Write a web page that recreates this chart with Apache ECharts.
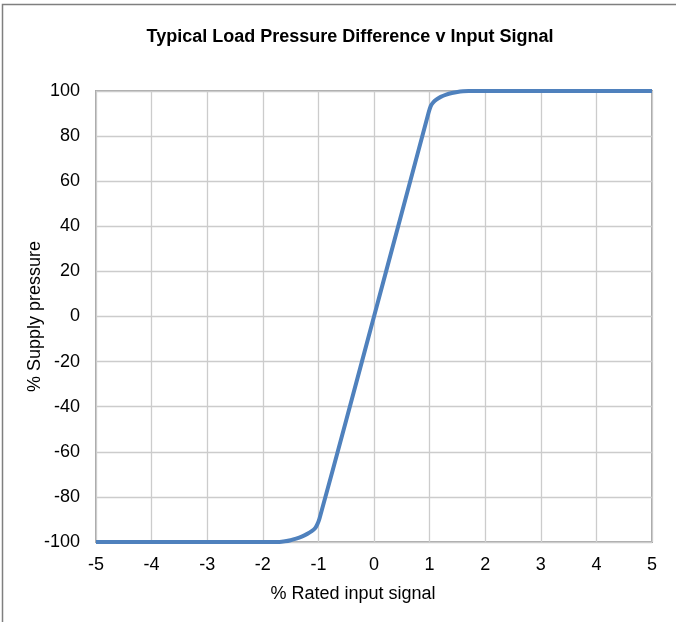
<!DOCTYPE html>
<html>
<head>
<meta charset="utf-8">
<script src="https://cdn.jsdelivr.net/npm/echarts@6/dist/echarts.min.js"></script>
<style>
html,body{margin:0;padding:0;background:#fff;}
#chart{width:676px;height:622px;}
</style>
</head>
<body>
<div id="chart"></div>
<script>
const titleText = 'Typical Load Pressure Difference v Input Signal';
const xAxisName = '% Rated input signal';
const yAxisName = '% Supply pressure';
const inputSignal = [-5, -3, -2, -1.7, -1.6, -1.5, -1.4, -1.3, -1.2, -1.12, -1.06, -1.02, -0.98, -0.5, 0, 0.5, 0.98, 1.02, 1.06, 1.12, 1.2, 1.3, 1.4, 1.5, 1.6, 1.7, 2, 3, 5];
const pressure    = [-100, -100, -100, -100, -99.7, -99.2, -98.5, -97.6, -96.4, -95.2, -93.9, -92.2, -89.6, -46, 0, 46, 90.2, 93.3, 94.8, 96.2, 97.4, 98.4, 99.1, 99.6, 99.9, 100, 100, 100, 100];

const chart = echarts.init(document.getElementById('chart'), null, {renderer: 'canvas'});
const font = 'Liberation Sans, Arial, sans-serif';
chart.setOption({
  animation: false,
  backgroundColor: '#ffffff',
  title: {
    text: titleText,
    left: 345, top: 23, textAlign: 'center',
    textStyle: {fontFamily: font, fontSize: 18, fontWeight: 'bold', color: '#000'}
  },
  graphic: [{
    type: 'rect',
    shape: {x: 2.5, y: 4.5, width: 800, height: 800},
    style: {fill: 'none', stroke: '#7f7f7f', lineWidth: 1.5},
    silent: true
  }],
  grid: {left: 96, right: 24, top: 91, bottom: 80, show: true, borderColor: '#a8a8a8', borderWidth: 2, backgroundColor: 'transparent'},
  xAxis: {
    type: 'value', min: -5, max: 5, interval: 1,
    name: xAxisName, nameLocation: 'middle', nameGap: 43, nameMoveOverlap: false,
    nameTextStyle: {fontFamily: font, fontSize: 18, color: '#000', padding: [0, 42, 0, 0]},
    axisLine: {show: false, onZero: false},
    axisTick: {show: false},
    axisLabel: {fontFamily: font, fontSize: 18, color: '#000', margin: 14},
    splitLine: {show: true, lineStyle: {color: '#cccccc', width: 1.3}}
  },
  yAxis: {
    type: 'value', min: -100, max: 100, interval: 20,
    name: yAxisName, nameLocation: 'middle', nameGap: 52, nameMoveOverlap: false,
    nameTextStyle: {fontFamily: font, fontSize: 18, color: '#000'},
    axisLine: {show: false, onZero: false},
    axisTick: {show: false},
    axisLabel: {fontFamily: font, fontSize: 18, color: '#000', margin: 16},
    splitLine: {show: true, lineStyle: {color: '#cccccc', width: 1.3}}
  },
  series: [{
    type: 'line',
    data: inputSignal.map((x, i) => [x, pressure[i]]),
    smooth: 0.2,
    symbol: 'none',
    lineStyle: {color: '#4f81bd', width: 4, join: 'round'},
    clip: false
  }]
});
</script>
</body>
</html>
